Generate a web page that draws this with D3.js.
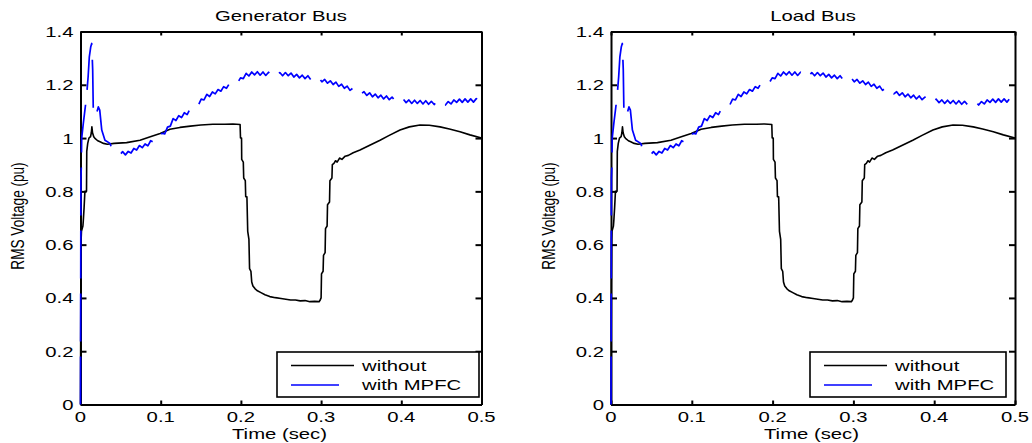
<!DOCTYPE html>
<html>
<head>
<meta charset="utf-8">
<script src="https://cdn.jsdelivr.net/npm/d3@7"></script>
<style>
  body { margin: 0; background: #fff; }
  svg { display: block; font-family: "Liberation Sans", Arial, sans-serif; }
</style>
</head>
<body>
<svg id="chart" width="1032" height="443"></svg>
<script>
// ---- data -------------------------------------------------------------
const panelTitles = ["Generator Bus", "Load Bus"];
const seriesNames = ["without", "with MPFC"];
const timeTicks = [0, 0.1, 0.2, 0.3, 0.4, 0.5];
const voltTicks = [0, 0.2, 0.4, 0.6, 0.8, 1, 1.2, 1.4];

// RMS voltage (pu) vs time (s), no compensation
const voltageWithout = [
  [0, 0], [0.0004, 0.45], [0.0008, 0.62], [0.0012, 0.65], [0.003, 0.67], [0.0035, 0.69],
  [0.0045, 0.74], [0.0055, 0.80], [0.0075, 0.80], [0.0078, 0.95], [0.009, 0.98], [0.0105, 1.0],
  [0.0125, 1.005], [0.0135, 1.02], [0.0142, 1.042], [0.015, 1.02], [0.0165, 1.005], [0.018, 0.999],
  [0.0215, 0.99], [0.0244, 0.986], [0.0287, 0.98], [0.0334, 0.977], [0.042, 0.98], [0.0575, 0.983],
  [0.0742, 0.992], [0.087, 1.005], [0.0993, 1.017], [0.1115, 1.033], [0.124, 1.040], [0.137, 1.045],
  [0.150, 1.049], [0.165, 1.052], [0.18, 1.052], [0.19, 1.053], [0.199, 1.051],
  [0.1995, 1.0], [0.2008, 1.0], [0.201, 0.92], [0.203, 0.91], [0.2035, 0.85], [0.2055, 0.84],
  [0.206, 0.78], [0.2075, 0.78], [0.2085, 0.65], [0.21, 0.62], [0.2108, 0.51], [0.2125, 0.50],
  [0.2135, 0.46], [0.215, 0.445], [0.2175, 0.435], [0.22, 0.428], [0.225, 0.42], [0.23, 0.412],
  [0.236, 0.405], [0.243, 0.401], [0.25, 0.398], [0.256, 0.395], [0.262, 0.392], [0.268, 0.392],
  [0.274, 0.389], [0.28, 0.39], [0.286, 0.386], [0.292, 0.387], [0.2975, 0.386], [0.2985, 0.39],
  [0.3, 0.40], [0.3005, 0.49], [0.3025, 0.50], [0.303, 0.56], [0.305, 0.57], [0.3055, 0.66],
  [0.3075, 0.67], [0.308, 0.75], [0.3105, 0.76], [0.311, 0.84], [0.3135, 0.85], [0.314, 0.90],
  [0.316, 0.905], [0.318, 0.915], [0.32, 0.91], [0.323, 0.925], [0.326, 0.92], [0.33, 0.932],
  [0.334, 0.935], [0.34, 0.945], [0.3485, 0.955], [0.36, 0.972], [0.3735, 0.992], [0.385, 1.01],
  [0.3984, 1.03], [0.41, 1.042], [0.4233, 1.049], [0.435, 1.048], [0.4483, 1.042], [0.46, 1.034],
  [0.4732, 1.024], [0.4856, 1.012], [0.5, 1.0]
];

// RMS voltage (pu) vs time (s), with the MPFC in service
const voltageWithMpfc = [
  [0, 0], [0.0003, 0.5], [0.0005, 0.85], [0.001, 0.89], [0.0015, 1.0], [0.0035, 1.055],
  [0.0055, 1.105], [0.0065, 1.13], [0.0075, 1.155], [0.0095, 1.23], [0.011, 1.305], [0.0128, 1.343],
  [0.014, 1.355], [0.0152, 1.255], [0.016, 1.093], [0.018, 1.08], [0.02, 1.093], [0.0222, 1.117],
  [0.024, 1.105], [0.0265, 1.03], [0.0305, 0.992], [0.0368, 0.98], [0.039, 0.961], [0.0415, 0.952],
  [0.0455, 0.951], [0.049, 0.937], [0.0525, 0.949], [0.056, 0.937], [0.0595, 0.950], [0.063, 0.944],
  [0.0665, 0.961], [0.07, 0.955], [0.0735, 0.972], [0.077, 0.964], [0.0805, 0.978], [0.084, 0.971],
  [0.0875, 0.990], [0.091, 0.984], [0.0945, 1.003], [0.098, 0.997], [0.1015, 1.018], [0.105, 1.016],
  [0.1085, 1.041], [0.112, 1.045], [0.1155, 1.073], [0.119, 1.066], [0.1225, 1.084], [0.126, 1.077],
  [0.1295, 1.095], [0.133, 1.088], [0.1365, 1.109], [0.14, 1.106], [0.1435, 1.127], [0.147, 1.124],
  [0.1505, 1.146], [0.154, 1.143], [0.1575, 1.164], [0.161, 1.156], [0.1645, 1.173], [0.168, 1.166],
  [0.1715, 1.182], [0.175, 1.176], [0.1785, 1.193], [0.182, 1.187], [0.1855, 1.204], [0.189, 1.197],
  [0.1925, 1.214], [0.196, 1.208], [0.1995, 1.226], [0.203, 1.223], [0.2065, 1.243], [0.21, 1.233],
  [0.2135, 1.248], [0.217, 1.237], [0.2205, 1.249], [0.224, 1.236], [0.2275, 1.248], [0.231, 1.235],
  [0.2345, 1.247], [0.238, 1.234], [0.2415, 1.246], [0.245, 1.234], [0.2485, 1.246], [0.252, 1.234],
  [0.2555, 1.246], [0.259, 1.234], [0.2625, 1.244], [0.266, 1.229], [0.2695, 1.239], [0.273, 1.226],
  [0.2765, 1.236], [0.28, 1.223], [0.2835, 1.234], [0.287, 1.220], [0.2905, 1.231], [0.294, 1.216],
  [0.2975, 1.225], [0.301, 1.211], [0.3045, 1.220], [0.308, 1.206], [0.3115, 1.215], [0.315, 1.201],
  [0.3185, 1.210], [0.322, 1.194], [0.3255, 1.202], [0.329, 1.187], [0.3325, 1.195], [0.336, 1.179],
  [0.3395, 1.187], [0.343, 1.172], [0.3465, 1.181], [0.35, 1.166], [0.3535, 1.174], [0.357, 1.160],
  [0.3605, 1.170], [0.364, 1.155], [0.3675, 1.165], [0.371, 1.151], [0.3745, 1.161], [0.378, 1.147],
  [0.3815, 1.158], [0.385, 1.144], [0.3885, 1.154], [0.392, 1.140], [0.3955, 1.150], [0.399, 1.136],
  [0.4025, 1.146], [0.406, 1.133], [0.4095, 1.143], [0.413, 1.130], [0.4165, 1.142], [0.42, 1.130],
  [0.4235, 1.141], [0.427, 1.128], [0.4305, 1.140], [0.434, 1.127], [0.4375, 1.138], [0.441, 1.126],
  [0.4445, 1.137], [0.448, 1.125], [0.4515, 1.136], [0.455, 1.124], [0.4585, 1.137], [0.462, 1.128],
  [0.4655, 1.143], [0.469, 1.134], [0.4725, 1.146], [0.476, 1.134], [0.4795, 1.147], [0.483, 1.135],
  [0.4865, 1.147], [0.49, 1.135], [0.4935, 1.148], [0.497, 1.136], [0.5, 1.142]
];

// both buses show the same recorded traces
const busSeries = [
  [voltageWithout, voltageWithMpfc],
  [voltageWithout, voltageWithMpfc]
];

// ---- layout -----------------------------------------------------------
const svg = d3.select("#chart");
const TEXT_SX = 1.45;              // wide lettering of the exported figure
const FONT = 14;
const colors = ["#000000", "#0000ff"];
const dash = [null, "48,15"];

const panels = [
  { x0: 80.5, x1: 481.5, legendX0: 277, legendX1: 479, ylabX: 24 },
  { x0: 611, x1: 1015, legendX0: 810, legendX1: 1006, ylabX: 554.5 }
];
const yTop = 31.5, yBot = 404.5;

function stretchedText(g, x, y, str, anchor, sx, size) {
  return g.append("text")
    .attr("transform", `translate(${x},${y}) scale(${sx},1)`)
    .attr("text-anchor", anchor)
    .attr("font-size", size)
    .attr("fill", "#000")
    .text(str);
}

panels.forEach((p, i) => {
  const g = svg.append("g");
  const x = d3.scaleLinear().domain([0, 0.5]).range([p.x0, p.x1]);
  const y = d3.scaleLinear().domain([0, 1.4]).range([yBot, yTop]);
  const fmt = d3.format("~g");

  // axes box with inward ticks
  const axB = g.append("g").attr("transform", `translate(0,${yBot})`)
    .call(d3.axisBottom(x).tickValues(timeTicks).tickSizeInner(-4).tickSizeOuter(0).tickPadding(0).tickFormat(""));
  const axT = g.append("g").attr("transform", `translate(0,${yTop})`)
    .call(d3.axisTop(x).tickValues(timeTicks).tickSizeInner(-4).tickSizeOuter(0).tickFormat(""));
  const axL = g.append("g").attr("transform", `translate(${p.x0},0)`)
    .call(d3.axisLeft(y).tickValues(voltTicks).tickSizeInner(-6).tickSizeOuter(0).tickFormat(""));
  const axR = g.append("g").attr("transform", `translate(${p.x1},0)`)
    .call(d3.axisRight(y).tickValues(voltTicks).tickSizeInner(-6).tickSizeOuter(0).tickFormat(""));
  [axB, axT, axL, axR].forEach(a => {
    a.select(".domain").attr("stroke", "#000").attr("stroke-width", 2);
    a.selectAll(".tick line").attr("stroke", "#000").attr("stroke-width", 2);
  });

  // tick labels
  timeTicks.forEach(t => stretchedText(g, x(t), 421.5, fmt(t), "middle", TEXT_SX, FONT));
  voltTicks.forEach(v => stretchedText(g, p.x0 - 7, y(v) + 5.5, fmt(v), "end", TEXT_SX, FONT));

  // title and axis labels
  stretchedText(g, (p.x0 + p.x1) / 2, 21, panelTitles[i], "middle", TEXT_SX, FONT);
  stretchedText(g, (p.x0 + p.x1) / 2 - 1.5, 439, "Time (sec)", "middle", TEXT_SX, FONT);
  g.append("text")
    .attr("transform", `translate(${p.ylabX},216) scale(1.3,1) rotate(-90)`)
    .attr("text-anchor", "middle")
    .attr("font-size", 13.6)
    .attr("fill", "#000")
    .text("RMS Voltage (pu)");

  // traces
  const line = d3.line().x(d => x(d[0])).y(d => y(d[1]));
  busSeries[i].forEach((s, k) => {
    g.append("path")
      .attr("d", line(s))
      .attr("fill", "none")
      .attr("stroke", colors[k])
      .attr("stroke-width", k === 0 ? 1.6 : 1.7)
      .attr("stroke-dasharray", dash[k])
      .attr("stroke-linejoin", "round");
  });

  // legend
  const lg = g.append("g");
  lg.append("rect")
    .attr("x", p.legendX0).attr("y", 352)
    .attr("width", p.legendX1 - p.legendX0).attr("height", 45)
    .attr("fill", "#fff").attr("stroke", "#000").attr("stroke-width", 1.6);
  seriesNames.forEach((name, k) => {
    const ly = 365.5 + k * 19.5;
    lg.append("line")
      .attr("x1", p.legendX0 + 14).attr("x2", p.legendX0 + 77)
      .attr("y1", ly).attr("y2", ly)
      .attr("stroke", colors[k]).attr("stroke-width", 1.5)
      .attr("stroke-dasharray", dash[k]);
    stretchedText(lg, p.legendX0 + 85, ly + 5, name, "start", TEXT_SX, FONT);
  });
});
</script>
</body>
</html>
